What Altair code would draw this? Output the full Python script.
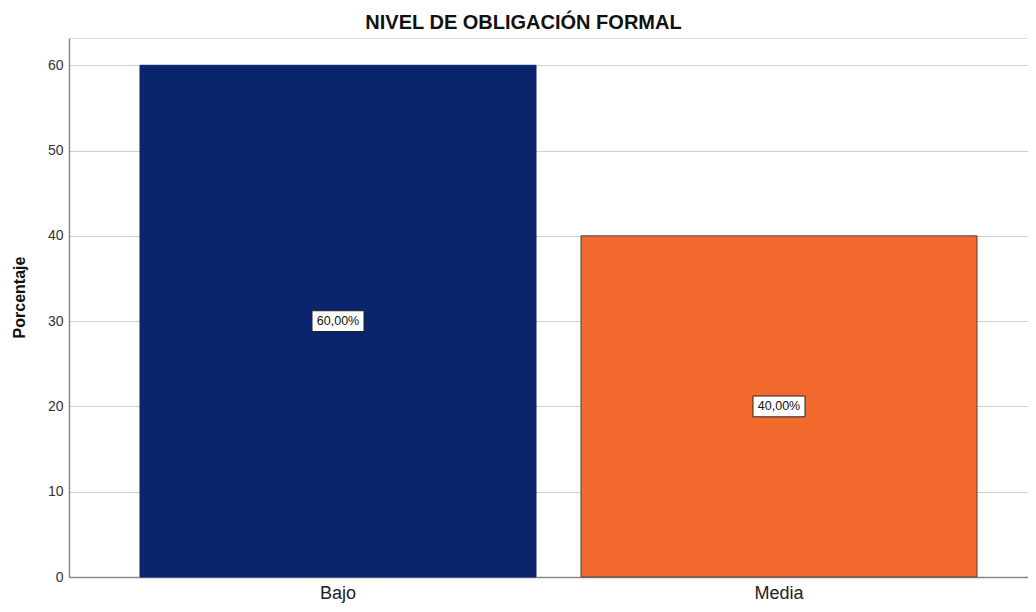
import altair as alt
import pandas as pd

categories = ["Bajo", "Media"]
values = [60.0, 40.0]
value_labels = ["60,00%", "40,00%"]
colors = ["#0A246E", "#F2692D"]
outlines = ["#0A246E", "#444444"]
y_ticks = [0, 10, 20, 30, 40, 50, 60]

df = pd.DataFrame({"cat": categories, "val": values, "lab": value_labels})

FONT = "Liberation Sans"

x_enc = alt.X(
    "cat:N",
    sort=categories,
    title=None,
    scale=alt.Scale(paddingInner=0.102, paddingOuter=0.1383, align=0.582),
    axis=alt.Axis(labelAngle=0, labelFontSize=18, labelColor="#222222", labelFont=FONT,
                  ticks=False, labelPadding=7, domainColor="#888888", domainWidth=1.5, grid=False),
)

y_scale = alt.Scale(domain=[0, 63.2], nice=False, zero=True)

bars = alt.Chart(df).mark_bar(strokeWidth=1).encode(
    x=x_enc,
    y=alt.Y(
        "val:Q",
        scale=y_scale,
        title="Porcentaje",
        axis=alt.Axis(values=y_ticks, ticks=False, labelPadding=6, labelFontSize=14,
                      labelColor="#333333", labelFont=FONT, domainColor="#888888", domainWidth=1.5,
                      gridColor="#cfcfcf", gridWidth=1,
                      titleFontSize=16, titleFont=FONT, titleFontWeight="bold", titleColor="#111111",
                      titleX=-50, titleY=259, titleAngle=-90, titleAlign="center",
                      titleBaseline="middle"),
    ),
    fill=alt.Color("cat:N", scale=alt.Scale(domain=categories, range=colors), legend=None),
    stroke=alt.Stroke("cat:N", scale=alt.Scale(domain=categories, range=outlines), legend=None),
)

boxes = alt.Chart(df).transform_calculate(half="datum.val / 2").mark_point(
    shape="M-1,-0.4H1V0.4H-1Z", filled=True, fill="white", stroke="#222222",
    strokeWidth=1, size=2704, opacity=1,
).encode(
    x=alt.X("cat:N", sort=categories),
    y=alt.Y("half:Q", scale=y_scale),
)

texts = alt.Chart(df).transform_calculate(half="datum.val / 2").mark_text(
    fontSize=12.5, font=FONT, color="#111111", baseline="middle", align="center"
).encode(
    x=alt.X("cat:N", sort=categories),
    y=alt.Y("half:Q", scale=y_scale),
    text="lab:N",
)

chart = alt.layer(bars, boxes, texts).properties(
    width=959,
    height=539,
    title=alt.TitleParams("NIVEL DE OBLIGACIÓN FORMAL", fontSize=20, font=FONT,
                          fontWeight="bold", color="#111111", anchor="middle", dx=-25, offset=5),
    autosize=alt.AutoSizeParams(type="none"),
    padding={"left": 61, "top": 30, "right": 0, "bottom": 35},
).configure_view(stroke=None).configure(background="white")

chart.save("out.html", embed_options={"renderer": "svg", "actions": False})
